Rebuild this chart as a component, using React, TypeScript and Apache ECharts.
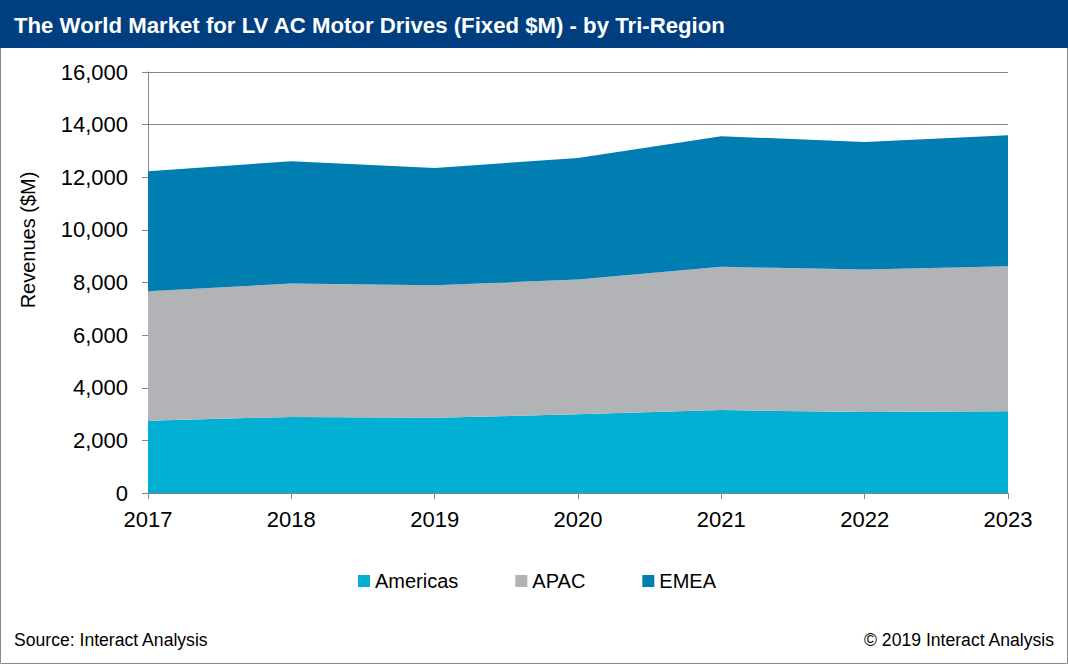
import React, { useEffect, useRef } from "react";
import * as echarts from "echarts";

const years = ["2017", "2018", "2019", "2020", "2021", "2022", "2023"];
const americas = [2750, 2890, 2860, 2990, 3150, 3080, 3110];
const apac = [4920, 5070, 5040, 5125, 5445, 5415, 5510];
const emea = [4560, 4650, 4455, 4620, 4965, 4845, 4975];
const seriesNames = ["Americas", "APAC", "EMEA"];
const colors = ["#00AFD1", "#B2B3B6", "#007DB1"];

const W = 1068;
const H = 664;
const FONT = "'Liberation Sans', Arial, sans-serif";

export default function App() {
  const ref = useRef<HTMLDivElement>(null);
  useEffect(() => {
    document.body.style.margin = "0";
    const chart = echarts.init(ref.current!, null, { renderer: "svg" });
    const mk = (name: string, data: number[], color: string) => ({
      name,
      type: "line",
      stack: "total",
      data,
      symbol: "none",
      showSymbol: false,
      lineStyle: { width: 0 },
      itemStyle: { color },
      areaStyle: { color, opacity: 1 },
    });
    chart.setOption({
      animation: false,
      backgroundColor: "#ffffff",
      textStyle: { fontFamily: FONT },
      grid: { left: 148, right: W - 1008, top: 72, bottom: H - 493 },
      legend: {
        data: seriesNames,
        left: 358,
        top: 571,
        padding: 0,
        icon: "rect",
        itemWidth: 12,
        itemHeight: 12,
        itemGap: 57,
        textStyle: { fontSize: 20, color: "#000", fontFamily: FONT },
      },
      xAxis: {
        type: "category",
        data: years,
        boundaryGap: false,
        axisLine: { show: true, lineStyle: { color: "#868686" } },
        axisTick: { show: true, alignWithLabel: true, length: 6, lineStyle: { color: "#868686" } },
        axisLabel: { fontSize: 22, color: "#000", margin: 15, fontFamily: FONT },
        splitLine: { show: false },
      },
      yAxis: {
        type: "value",
        min: 0,
        max: 16000,
        interval: 2000,
        axisLine: { show: true, lineStyle: { color: "#868686" } },
        axisTick: { show: true, length: 6, lineStyle: { color: "#868686" } },
        axisLabel: {
          fontSize: 22,
          color: "#000",
          margin: 20,
          fontFamily: FONT,
          formatter: (v: number) => v.toLocaleString("en-US"),
        },
        splitLine: { show: true, lineStyle: { color: "#868686", width: 1 } },
      },
      series: [
        mk(seriesNames[0], americas, colors[0]),
        mk(seriesNames[1], apac, colors[1]),
        mk(seriesNames[2], emea, colors[2]),
      ],
      graphic: [
        {
          type: "rect",
          shape: { x: 0.5, y: 0.5, width: W - 1, height: H - 1 },
          style: { fill: "none", stroke: "#8a8a8a", lineWidth: 1 },
          silent: true,
        },
        {
          type: "rect",
          shape: { x: 0, y: 0, width: W, height: 48 },
          style: { fill: "#003F7F" },
          silent: true,
        },
        {
          type: "text",
          x: 14,
          y: 25,
          style: {
            text: "The World Market for LV AC Motor Drives (Fixed $M) - by Tri-Region",
            fill: "#ffffff",
            font: `bold 22.2px ${FONT}`,
            verticalAlign: "middle",
          },
        },
        {
          type: "text",
          x: 28,
          y: 240,
          rotation: Math.PI / 2,
          style: {
            text: "Revenues ($M)",
            fill: "#000",
            font: `20px ${FONT}`,
            align: "center",
            verticalAlign: "middle",
          },
        },
        {
          type: "text",
          x: 14,
          y: 640,
          style: {
            text: "Source: Interact Analysis",
            fill: "#000",
            font: `17.6px ${FONT}`,
            verticalAlign: "middle",
          },
        },
        {
          type: "text",
          x: 1054,
          y: 640,
          style: {
            text: "© 2019 Interact Analysis",
            fill: "#000",
            font: `17.6px ${FONT}`,
            align: "right",
            verticalAlign: "middle",
          },
        },
      ],
    });
    return () => chart.dispose();
  }, []);
  return (
    <div style={{ position: "absolute", left: 0, top: 0 }}>
      <div ref={ref} style={{ width: W, height: H }} />
    </div>
  );
}
